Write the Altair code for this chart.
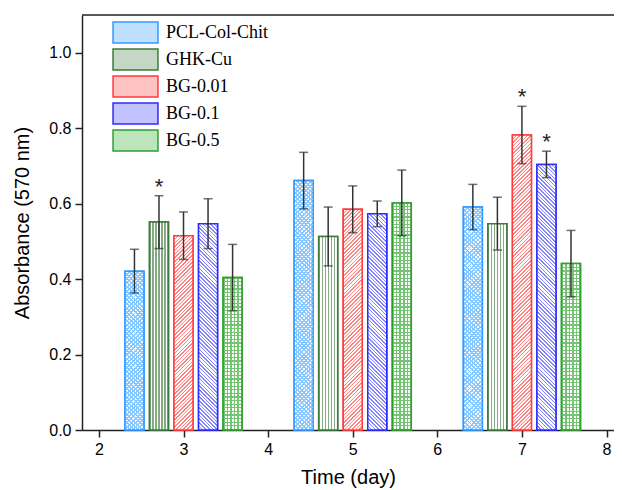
import math
import altair as alt
import pandas as pd

# ---------------- data ----------------
days = [3, 5, 7]
series = ["PCL-Col-Chit", "GHK-Cu", "BG-0.01", "BG-0.1", "BG-0.5"]
mean_pcl = [0.421, 0.661, 0.591]
mean_ghk = [0.551, 0.513, 0.547]
mean_bg001 = [0.515, 0.585, 0.782]
mean_bg01 = [0.547, 0.573, 0.704]
mean_bg05 = [0.404, 0.602, 0.441]
err_pcl = [0.058, 0.075, 0.060]
err_ghk = [0.070, 0.078, 0.070]
err_bg001 = [0.063, 0.062, 0.076]
err_bg01 = [0.066, 0.034, 0.035]
err_bg05 = [0.088, 0.087, 0.088]
significant = [(3, "GHK-Cu"), (7, "BG-0.01"), (7, "BG-0.1")]
x_ticks = [2, 3, 4, 5, 6, 7, 8]
y_ticks = [0.0, 0.2, 0.4, 0.6, 0.8, 1.0]

means = [mean_pcl, mean_ghk, mean_bg001, mean_bg01, mean_bg05]
errs = [err_pcl, err_ghk, err_bg001, err_bg01, err_bg05]

# ---------------- styling ----------------
stroke_colors = ["#3399ff", "#3d7a3d", "#ff3b3b", "#2b2bff", "#2ea02e"]
line_colors = ["#86c8ff", "#86aa86", "#ff8585", "#8585ff", "#74c474"]
tint_colors = ["#bfe1ff", "#c5d6c5", "#ffc2c2", "#c2c2ff", "#bde4bd"]

W, H = 532, 415
XMIN = 1.8
XMAX = XMIN + W / 84.6
YMAX = 1.1
BAR_PX = 19
STEP = 0.29

rows = []
for i, s in enumerate(series):
    for j, d in enumerate(days):
        m = means[i][j]
        e = errs[i][j]
        rows.append(dict(series=s, idx=i, day=d, pos=d + (i - 2) * STEP,
                         mean=m, lo=m - e, hi=m + e,
                         star="*" if (d, s) in significant else ""))
df = pd.DataFrame(rows)

xscale = alt.Scale(domain=[XMIN, XMAX], nice=False, zero=False, padding=0)
yscale = alt.Scale(domain=[0, YMAX], nice=False, padding=0)
xaxis = alt.Axis(values=x_ticks, format="d", title="Time (day)", grid=False,
                 labelPadding=4, titlePadding=10)
yaxis = alt.Axis(values=y_ticks, format=".1f", title="Absorbance (570 nm)", grid=False,
                 labelPadding=4, titlePadding=16)


def X(field="pos"):
    return alt.X(f"{field}:Q", scale=xscale, axis=xaxis)


def Y(field="mean"):
    return alt.Y(f"{field}:Q", scale=yscale, axis=yaxis)


def stops_for(tmax, dt, frac, line, bg):
    out = []
    k = 0
    lim = min(tmax, 1.0)
    while k * dt <= lim:
        a = k * dt
        b = min(a + frac * dt, 1.0)
        c = min(a + dt, 1.0)
        out += [(a, line), (b, line), (b, bg), (c, bg)]
        k += 1
    return [{"offset": round(o, 5), "color": col} for o, col in out]


def grad_diag(h, d, line, bg, direction, frac=0.42):
    w = BAR_PX
    den = w * w + h * h
    tmax = w * (w + h) / den
    dt = w * d * math.sqrt(2) / den
    if direction == "/":
        x1, y1, x2, y2 = 0, 0, 1, h / w
    else:
        x1, y1, x2, y2 = 0, 1, 1, 1 - h / w
    return {"gradient": "linear", "x1": x1, "y1": y1, "x2": x2, "y2": y2,
            "stops": stops_for(tmax, dt, frac, line, bg)}


def grad_vert(d, line, bg):
    return {"gradient": "linear", "x1": 0, "y1": 0, "x2": 1, "y2": 0,
            "stops": stops_for(1.0, d / BAR_PX, 0.4, line, bg)}


def grad_horiz(h, d, line, bg):
    return {"gradient": "linear", "x1": 0, "y1": 1, "x2": 0, "y2": 0,
            "stops": stops_for(1.0, d / h, 0.35, line, bg)}


CLEAR = "rgba(255,255,255,0)"

legend_kw = dict(
    title=None, orient="none", legendX=42, legendY=6,
    symbolType="M-2.14,-1H2.14V1H-2.14Z", symbolSize=441,
    symbolStrokeWidth=1.5, labelFont="Liberation Serif",
    labelFontSize=18, labelColor="black", labelOffset=19,
    rowPadding=0, padding=0, symbolOpacity=1)

# base bars: carry the legend
base = alt.Chart(df).mark_bar(size=BAR_PX, strokeWidth=1.5).encode(
    x=X(), y=Y(),
    fill=alt.Fill("series:N", scale=alt.Scale(domain=series, range=tint_colors),
                  legend=alt.Legend(**legend_kw)),
    stroke=alt.Stroke("series:N", scale=alt.Scale(domain=series, range=stroke_colors),
                      legend=alt.Legend(**legend_kw)),
)

# hatch overlays, one per bar (pattern density depends on bar pixel height)
hatch_layers = []
for r in rows:
    i = r["idx"]
    h = max(r["mean"] / YMAX * H, 1.0)
    sub = alt.Chart(df).transform_filter(
        (alt.datum.series == r["series"]) & (alt.datum.day == r["day"]))
    if i == 0:
        grads = [grad_diag(h, 3.0, line_colors[0], "white", "/", 0.45),
                 grad_diag(h, 3.0, line_colors[0], CLEAR, "\\", 0.45)]
    elif i == 1:
        grads = [grad_vert(3.0, line_colors[1], "white")]
    elif i == 2:
        grads = [grad_diag(h, 2.6, line_colors[2], "white", "/")]
    elif i == 3:
        grads = [grad_diag(h, 2.6, line_colors[3], "white", "\\")]
    else:
        grads = [grad_vert(3.6, line_colors[4], "white"),
                 grad_horiz(h, 3.6, line_colors[4], CLEAR)]
    for g in grads:
        hatch_layers.append(sub.mark_bar(size=BAR_PX, strokeWidth=0).encode(
            x=X(), y=Y(), fill=alt.value(g)))

outline = alt.Chart(df).mark_bar(size=BAR_PX, strokeWidth=1.5, fillOpacity=0).encode(
    x=X(), y=Y(),
    stroke=alt.Stroke("series:N", scale=alt.Scale(domain=series, range=stroke_colors),
                      legend=None),
)

err_rule = alt.Chart(df).mark_rule(color="#333333", strokeWidth=1.5).encode(
    x=X(), y=Y("lo"), y2="hi:Q")
cap_lo = alt.Chart(df).mark_tick(color="#333333", thickness=1.5, size=9,
                                 orient="horizontal").encode(x=X(), y=Y("lo"))
cap_hi = alt.Chart(df).mark_tick(color="#333333", thickness=1.5, size=9,
                                 orient="horizontal").encode(x=X(), y=Y("hi"))

stars = alt.Chart(df).transform_filter(alt.datum.star != "").mark_text(
    font="Liberation Sans", fontSize=22, color="#222222", baseline="alphabetic", dy=-2
).encode(x=X(), y=Y("hi"), text="star:N")

top_frame = alt.Chart(pd.DataFrame({"k": [0]})).mark_rule(
    color="#222222", strokeWidth=1.5).encode(
    y=alt.value(0), x=alt.value(0), x2=alt.value(W))

chart = alt.layer(base, *hatch_layers, outline, err_rule, cap_lo, cap_hi, stars,
                  top_frame).properties(
    width=W, height=H,
    autosize=alt.AutoSizeParams(type="none"),
    padding={"left": 74, "top": 7, "right": 0, "bottom": 60},
).configure_view(stroke=None).configure_axis(
    domainColor="#222222", domainWidth=1.5, tickColor="#222222", tickWidth=1.5,
    tickSize=7, labelFont="Liberation Sans", labelFontSize=16, labelColor="black",
    titleFont="Liberation Sans", titleFontSize=20, titleFontWeight="normal",
    titleColor="black",
)

chart.save("out.html", embed_options={"renderer": "svg", "actions": False})
